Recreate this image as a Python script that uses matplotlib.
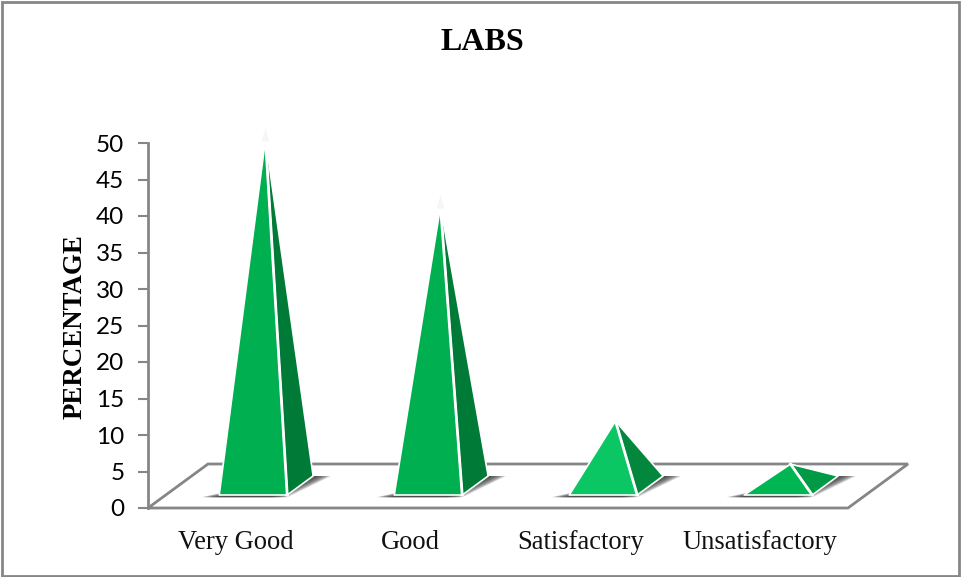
import matplotlib.pyplot as plt
from matplotlib.patches import Polygon, Rectangle

categories = ['Very Good', 'Good', 'Satisfactory', 'Unsatisfactory']
heights = [47.5, 38.3, 8.9, 3]
front_colors = ['#00B050', '#00B050', '#0BC763', '#00B653']
side_colors = ['#007A37', '#007A37', '#02873D', '#009A47']
yticks = list(range(0, 55, 5))

GREY = '#868686'
# one category is 175 px wide, one value unit is 7.3 px
DEPTH_X = 60 / 175
DEPTH_Y = 44 / 7.3
HALF_W = 34 / 175
D_FRONT = 13 / 44
D_BACK = 32 / 44


def floor(x, d):
    # point on the slanted floor, d = 0 at the front edge and 1 at the back
    return (x + d * DEPTH_X, d * DEPTH_Y)


def draw_shadow(ax, c):
    steps = 14
    for i in range(steps):
        ext = 18 / 175 * (1 - i / steps)
        pts = [floor(c - HALF_W - ext, D_FRONT), floor(c + HALF_W - ext, D_BACK),
               floor(c + HALF_W + ext, D_BACK), floor(c + HALF_W + ext, D_FRONT)]
        # lower edge sits slightly under the base
        pts[0] = (pts[0][0], pts[0][1] - 0.3)
        pts[3] = (pts[3][0] - 0.1, pts[3][1] - 0.3)
        ax.add_patch(Polygon(pts, fc='#3C3C3C', ec='none', alpha=0.15, zorder=2, clip_on=False))


def draw_pyramid(ax, c, h, front, side):
    fl = floor(c - HALF_W, D_FRONT)
    fr = floor(c + HALF_W, D_FRONT)
    br = floor(c + HALF_W, D_BACK)
    ax0, ay0 = floor(c, 0.5)
    apex = (ax0, ay0 + h)
    ax.add_patch(Polygon([fr, br, apex], fc=side, ec='white', lw=1.2, joinstyle='round',
                         zorder=3, clip_on=False))
    ax.add_patch(Polygon([fl, fr, apex], fc=front, ec='white', lw=1.2, joinstyle='round',
                         zorder=4, clip_on=False))
    # the ridge between the two faces is a wider white line
    ax.plot([fr[0], apex[0]], [fr[1], apex[1]], color='white', lw=2, zorder=4.5, clip_on=False)
    if h > 20:
        # pale haze over the thin tips
        hw = 4 / 175
        ax.add_patch(Polygon([(apex[0] - hw, apex[1] - 0.3), (apex[0] + hw, apex[1] - 0.3),
                              (apex[0], apex[1] + 1.5)],
                             fc='#F6F6F6', ec='none', zorder=5, clip_on=False))


fig = plt.figure(figsize=(9.61, 5.77), dpi=100)
fig.patches.append(Rectangle((2 / 961, 1.5 / 577), 957 / 961, 574 / 577, transform=fig.transFigure,
                             fc='none', ec=GREY, lw=2))

ax = fig.add_axes([148 / 961, (577 - 508) / 577, 700 / 961, 365 / 577])

# floor outline
ax.add_patch(Polygon([floor(-0.5, 0), floor(-0.5, 1), floor(3.5, 1), floor(3.5, 0)],
                     fc='white', ec=GREY, lw=2, zorder=1, clip_on=False))

for i, h in enumerate(heights):
    draw_shadow(ax, i)
    draw_pyramid(ax, i, h, front_colors[i], side_colors[i])

ax.set_xlim(-0.5, 3.5)
ax.set_ylim(0, 50)

for s in ['top', 'right', 'bottom']:
    ax.spines[s].set_visible(False)
ax.spines['left'].set_color(GREY)
ax.spines['left'].set_linewidth(2)

ax.set_yticks(yticks)
# labels sit a touch left of the category centres in the original
ax.set_xticks([0, 1, 1.973, 2.995])
ax.set_xticklabels(categories, family='Liberation Serif', fontsize=19.1)
ax.tick_params(axis='x', length=0, pad=16, colors='#111111')
ax.tick_params(axis='y', length=7, width=1.5, color=GREY, pad=10, labelsize=17.5)
for lab in ax.get_yticklabels():
    lab.set_family('Lato')

fig.text(482 / 961, 1 - 42 / 577, 'LABS', family='Liberation Serif', weight='bold', fontsize=23,
         ha='center', va='center')
fig.text(75 / 961, 1 - 327 / 577, 'PERCENTAGE', family='Liberation Serif', weight='bold', fontsize=19.4,
         rotation=90, ha='center', va='center')

fig.savefig('out.png', dpi=100)
